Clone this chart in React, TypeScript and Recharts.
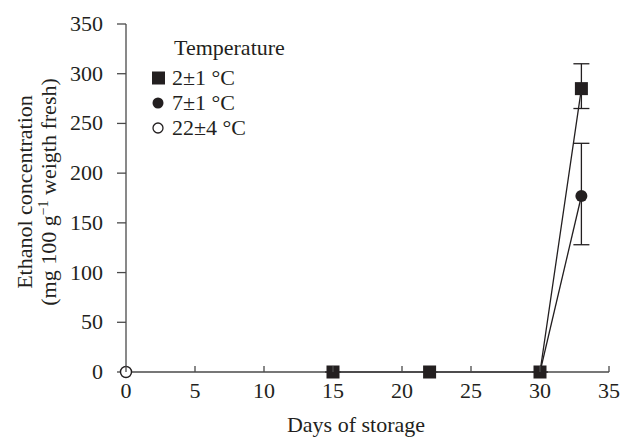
import React from 'react';
import { ComposedChart, Line, XAxis, YAxis, ErrorBar } from 'recharts';

// values
const daysCold = [15, 22, 30, 33];
const ethanolCold = [0, 0, 0, 285];
const errCold = [[0, 0], [0, 0], [0, 0], [20, 25]];

const daysMid = [30, 33];
const ethanolMid = [0, 177];
const errMid = [[0, 0], [49, 53]];

const daysWarm = [0];
const ethanolWarm = [0];

const xTicks = [0, 5, 10, 15, 20, 25, 30, 35];
const yTicks = [0, 50, 100, 150, 200, 250, 300, 350];

const legendLabels = ['2\u00b11 \u00b0C', '7\u00b11 \u00b0C', '22\u00b14 \u00b0C'];

const FONT = '"Liberation Serif", "DejaVu Serif", serif';
const AXIS = '#4a4a4a';
const INK = '#231f20';
const FS = 22;

const build = (xs: number[], ys: number[], errs?: number[][]) =>
  xs.map((d, i) => ({ day: d, value: ys[i], err: errs ? errs[i] : [0, 0] }));

const coldData = build(daysCold, ethanolCold, errCold);
const midData = build(daysMid, ethanolMid, errMid);
const warmData = build(daysWarm, ethanolWarm);

const SquareDot = (p: any) => (
  <rect key={`sq-${p.index}`} x={p.cx - 6.5} y={p.cy - 6.5} width={13} height={13} fill={INK} />
);
const FilledDot = (p: any) => (
  <circle key={`fc-${p.index}`} cx={p.cx} cy={p.cy} r={6} fill={INK} />
);
const OpenDot = (p: any) => (
  <circle key={`oc-${p.index}`} cx={p.cx} cy={p.cy} r={5.5} fill="#fff" stroke={INK} strokeWidth={1.4} />
);

const XTick = ({ x, y, payload }: any) => (
  <g>
    <line x1={x} y1={y} x2={x} y2={y - 6} stroke={AXIS} strokeWidth={1.3} />
    <text x={x} y={y + 26} textAnchor="middle" style={{ fontFamily: FONT, fontSize: FS }} fill={INK}>
      {payload.value}
    </text>
  </g>
);

const YTick = ({ x, y, payload }: any) => (
  <text x={x} y={y + 7} textAnchor="end" style={{ fontFamily: FONT, fontSize: FS }} fill={INK}>
    {payload.value}
  </text>
);

const LegendBox = () => (
  <div style={{ position: 'absolute', left: 150, top: 35, fontFamily: FONT, fontSize: FS, color: INK, lineHeight: '25px' }}>
    <div style={{ paddingLeft: 24, marginBottom: 5 }}>Temperature</div>
    {legendLabels.map((label, i) => (
      <div key={label} style={{ display: 'flex', alignItems: 'center' }}>
        <svg width={21} height={14} style={{ marginRight: 1 }}>
          {i === 0 && <rect x={2} y={0.5} width={13} height={13} fill={INK} />}
          {i === 1 && <circle cx={8} cy={7} r={5.5} fill={INK} />}
          {i === 2 && <circle cx={8} cy={7} r={5} fill="#fff" stroke={INK} strokeWidth={1.3} />}
        </svg>
        <span>{label}</span>
      </div>
    ))}
  </div>
);

export default function App() {
  return (
    <div style={{ position: 'absolute', left: 0, top: 0, width: 623, height: 439, background: '#fff' }}>
      <ComposedChart width={623} height={439} margin={{ top: 24, right: 14, bottom: 0, left: 0 }}>
        <XAxis
          xAxisId="b"
          type="number"
          dataKey="day"
          domain={[0, 35]}
          ticks={xTicks}
          allowDuplicatedCategory={false}
          height={67}
          stroke={AXIS}
          strokeWidth={1.3}
          tickLine={false}
          tickSize={0}
          tickMargin={0}
          tick={<XTick />}
          label={{
            content: () => (
              <text x={356} y={432} textAnchor="middle" style={{ fontFamily: FONT, fontSize: FS }} fill={INK}>
                Days of storage
              </text>
            ),
          }}
        />
        <XAxis xAxisId="t" orientation="top" type="number" domain={[0, 35]} height={0} tick={false} tickLine={false} stroke={AXIS} strokeWidth={1.3} />
        <YAxis
          yAxisId="l"
          type="number"
          domain={[0, 350]}
          ticks={yTicks}
          width={126}
          stroke={AXIS}
          strokeWidth={1.3}
          tickSize={9}
          tickMargin={14}
          tick={<YTick />}
          tickLine={{ stroke: AXIS, strokeWidth: 1.3 }}
          label={{
            content: () => (
              <g style={{ fontFamily: FONT, fontSize: FS }} fill={INK}>
                <text transform="translate(32,192) rotate(-90)" textAnchor="middle">Ethanol concentration</text>
                <text transform="translate(56,192) rotate(-90)" textAnchor="middle">
                  (mg 100 g<tspan style={{ fontSize: 14 }} dy={-8}>{'\u22121'}</tspan>
                  <tspan dy={8}> weigth fresh)</tspan>
                </text>
              </g>
            ),
          }}
        />
        <YAxis yAxisId="r" orientation="right" type="number" domain={[0, 350]} width={0} tick={false} tickLine={false} stroke={AXIS} strokeWidth={1.3} />

        <Line xAxisId="b" yAxisId="l" data={coldData} dataKey="value" stroke={INK} strokeWidth={1.3} dot={SquareDot} isAnimationActive={false}>
          <ErrorBar dataKey="err" direction="y" width={8} stroke={INK} strokeWidth={1.3} />
        </Line>
        <Line xAxisId="b" yAxisId="l" data={midData} dataKey="value" stroke={INK} strokeWidth={1.3} dot={FilledDot} isAnimationActive={false}>
          <ErrorBar dataKey="err" direction="y" width={8} stroke={INK} strokeWidth={1.3} />
        </Line>
        <Line xAxisId="b" yAxisId="l" data={warmData} dataKey="value" stroke={INK} strokeWidth={1.3} dot={OpenDot} isAnimationActive={false} />
      </ComposedChart>
      <LegendBox />
    </div>
  );
}
